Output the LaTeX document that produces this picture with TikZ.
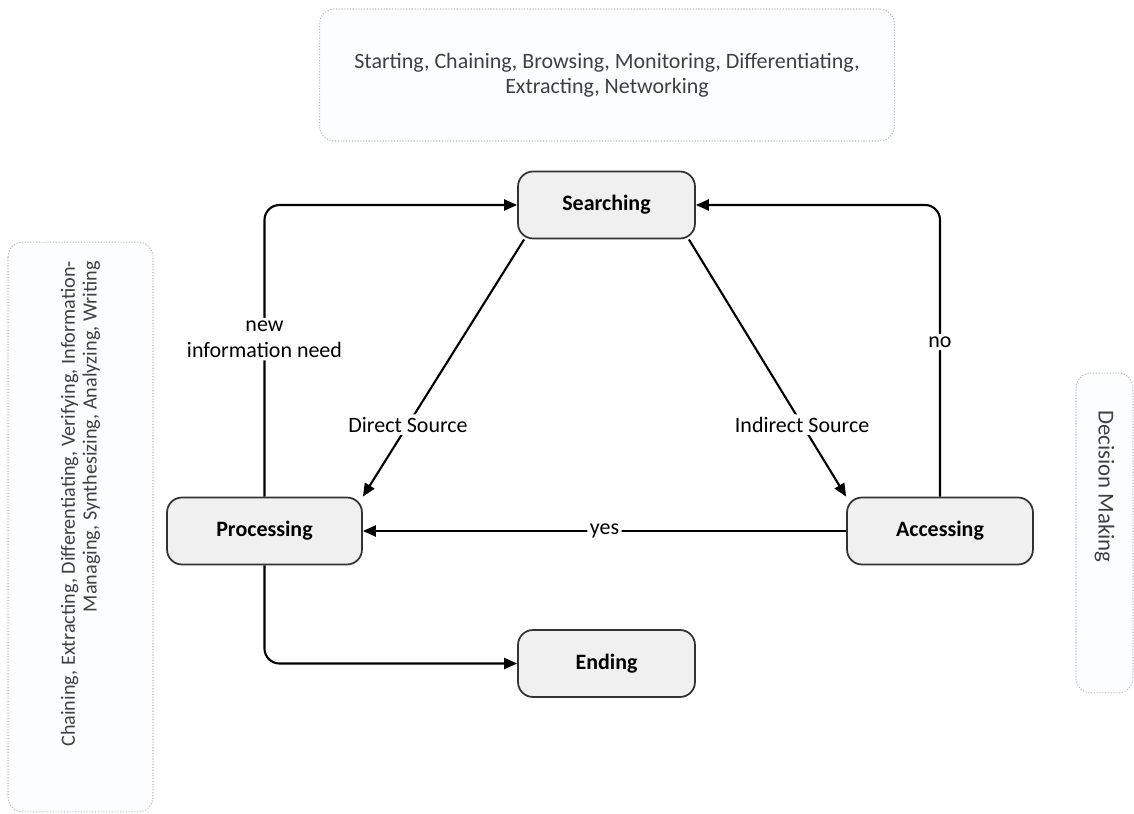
\documentclass[tikz,border=0pt]{standalone}
\usepackage{fontspec}
\setmainfont{Carlito}
\usetikzlibrary{arrows.meta}

\definecolor{boxgray}{HTML}{F0F0F0}
\definecolor{sidefill}{HTML}{FBFDFE}
\definecolor{sideline}{HTML}{B8B8B8}
\definecolor{sidetext}{HTML}{404040}

\begin{document}
\begin{tikzpicture}[x=0.02cm, y=-0.02cm]

    \useasboundingbox (0,0) rectangle (1134,814);

    \begin{scope} %activities
        \begin{scope}[every node/.style={draw=sideline, densely dotted, line width=0.6pt, fill=sidefill, rounded corners=0.3cm, text=sidetext, font=\fontsize{12.5}{14}\selectfont}]
            \node (top) at (607,75) [minimum width=11.5cm, minimum height=2.64cm, align=center] {Starting, Chaining, Browsing, Monitoring, Differentiating,\\Extracting, Networking};
            \node (left) at (80.5,527) [rotate=90, minimum height=2.9cm, inner xsep=0.38cm, text width=10.64cm, align=flush right, font=\fontsize{11.5}{12.4}\selectfont] {Chaining, Extracting, Differentiating, Verifying, Information-\\Managing, Synthesizing, Analyzing, Writing};
            \node (right) at (1104.5,533) [rotate=-90, minimum height=1.14cm, inner xsep=0.74cm, text width=4.92cm, align=flush left, font=\fontsize{13}{15}\selectfont] {Decision Making};
        \end{scope}
    \end{scope}

    \begin{scope} %states
        \begin{scope}[every node/.style={draw=black!80, line width=1pt, fill=boxgray, rounded corners=0.3cm, minimum height=1.34cm, font=\fontsize{12.5}{14}\selectfont\bfseries}]
            \node (search) at (606.5,205) [minimum width=3.54cm] {Searching};
            \node (proc) at (264.5,531) [minimum width=3.9cm] {Processing};
            \node (acc) at (940,531) [minimum width=3.72cm] {Accessing};
            \node (end) at (606.5,663.5) [minimum width=3.54cm] {Ending};
        \end{scope}
    \end{scope}

    \begin{scope}[conn/.style={draw, line width=1.2pt, rounded corners=0.3cm, -{Triangle[length=0.26cm, width=0.22cm]}},
                  every edge/.style={conn},
                  lbl/.style={fill=white, inner sep=1.5pt, font=\fontsize{12.5}{15}\selectfont, align=center}]
        \path ([xshift=0.14cm]search.south west) edge node[lbl, pos=0.72] {Direct Source} (proc.north east);
        \path ([xshift=-0.14cm]search.south east) edge node[lbl, pos=0.72] {Indirect Source} (acc.north west);
        \path (acc) edge node[lbl] {yes} (proc);
        \draw [conn] (proc.north) |- node[lbl, pos=0.27] {new\\information need} (search.west);
        \draw [conn] (acc.north) |- node[lbl, pos=0.265] {no} (search.east);
        \draw [conn] (proc.south) |- (end.west);
    \end{scope}

\end{tikzpicture}
\end{document}
